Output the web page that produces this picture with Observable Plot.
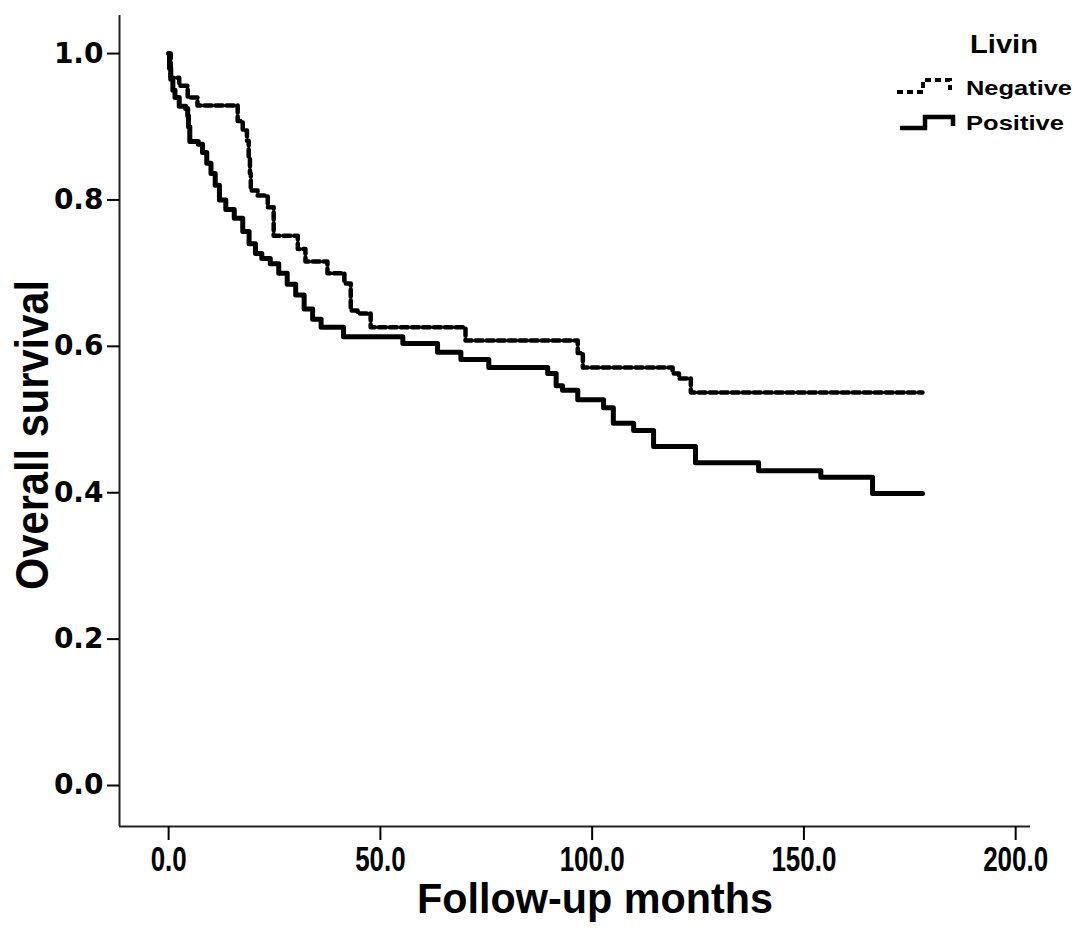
<!DOCTYPE html>
<html>
<head>
<meta charset="utf-8">
<script src="https://cdn.jsdelivr.net/npm/d3@7"></script>
<script src="https://cdn.jsdelivr.net/npm/@observablehq/plot@0.6"></script>
<style>
  html, body { margin: 0; padding: 0; background: #fff; }
  #chart { position: relative; width: 1087px; height: 933px; }
  #chart svg { display: block; }
  g[aria-label="y-axis tick label"] text { font-family: "DejaVu Sans", sans-serif; font-weight: bold; font-size: 28px; }
  g[aria-label="x-axis tick label"] text { font-family: "Liberation Sans", Arial, sans-serif; font-weight: bold; font-size: 35px; }
</style>
</head>
<body>
<div id="chart"></div>
<script>
// ---- data (months, survival proportion) ----
const negMonths = [0, 0.5, 2.5, 4.5, 6.8, 16.3, 17.5, 18.5, 18.9, 19.2, 19.4, 21, 23.4, 24.8, 30.5, 32.3, 37.5, 41.5, 43, 44.6, 47.7, 70.1, 96.6, 97.8, 119, 120.5, 123.3, 178];
const negSurv   = [1.0, 0.967, 0.956, 0.94, 0.929, 0.908, 0.895, 0.881, 0.858, 0.836, 0.813, 0.806, 0.79, 0.751, 0.733, 0.716, 0.70, 0.686, 0.649, 0.645, 0.626, 0.608, 0.591, 0.571, 0.563, 0.556, 0.537, 0.537];

const posMonths = [0, 0.2, 0.5, 1, 1.5, 2.5, 4, 4.5, 4.7, 5, 7, 8, 9, 10, 11, 12, 13.5, 15.5, 17.5, 19, 20.5, 22, 24, 26, 28, 30, 32, 34, 36, 41.3, 55.3, 63.5, 69, 75.6, 89.5, 91.5, 93, 96.6, 102.7, 105, 109.8, 114.5, 124.4, 139.3, 154, 166.2, 178];
const posSurv   = [1.0, 0.98, 0.965, 0.95, 0.94, 0.928, 0.925, 0.915, 0.90, 0.88, 0.876, 0.865, 0.85, 0.836, 0.82, 0.80, 0.787, 0.775, 0.757, 0.74, 0.727, 0.72, 0.713, 0.70, 0.685, 0.67, 0.651, 0.637, 0.626, 0.613, 0.604, 0.592, 0.582, 0.571, 0.563, 0.546, 0.54, 0.527, 0.516, 0.495, 0.485, 0.463, 0.441, 0.430, 0.421, 0.399, 0.399];

const xTicks = [0, 50, 100, 150, 200];
const yTicks = [0, 0.2, 0.4, 0.6, 0.8, 1.0];
const xDomain = [-11.6, 203.5];
const yDomain = [-0.056, 1.052];
const xTitle = "Follow-up months";
const yTitle = "Overall survival";
const legendTitle = "Livin";
const groups = ["Negative", "Positive"];

const neg = negMonths.map((m, i) => ({month: m, surv: negSurv[i]}));
const pos = posMonths.map((m, i) => ({month: m, surv: posSurv[i]}));

const W = 1087, H = 933;
const plot = Plot.plot({
  width: W, height: H,
  marginLeft: 119, marginRight: 57, marginTop: 15, marginBottom: 107,
  style: {background: "white", color: "black", overflow: "visible"},
  x: {domain: xDomain},
  y: {domain: yDomain},
  marks: [
    Plot.ruleX([xDomain[0]], {stroke: "#222", strokeWidth: 2}),
    Plot.ruleY([yDomain[0]], {stroke: "#222", strokeWidth: 2}),
    Plot.axisY({ticks: yTicks, tickFormat: d => d.toFixed(1), tickSize: 12, tickPadding: 4, strokeWidth: 2, label: null}),
    Plot.axisX({ticks: xTicks, tickFormat: d => d.toFixed(1), tickSize: 14, tickPadding: 6, strokeWidth: 2, label: null}),
    Plot.line(neg, {x: "month", y: "surv", curve: "step-after", stroke: "black", strokeWidth: 4.5, strokeDasharray: "7,4"}),
    Plot.line(pos, {x: "month", y: "surv", curve: "step-after", stroke: "black", strokeWidth: 5})
  ]
});
document.getElementById("chart").appendChild(plot);

const svg = d3.select(plot);
// condensed x tick labels
svg.selectAll('g[aria-label="x-axis tick label"] text').each(function() {
  const s = this.textContent;
  const len = s.replace(".", "").length * 14.5 + 7;
  d3.select(this).attr("textLength", len).attr("lengthAdjust", "spacingAndGlyphs");
});
// axis titles
svg.append("text")
  .attr("x", 595).attr("y", 913)
  .attr("text-anchor", "middle")
  .attr("font-family", "Liberation Sans, Arial, sans-serif").attr("font-weight", "bold").attr("font-size", 42)
  .attr("textLength", 356).attr("lengthAdjust", "spacingAndGlyphs")
  .text(xTitle);
svg.append("text")
  .attr("transform", "translate(48,435) rotate(-90)")
  .attr("text-anchor", "middle")
  .attr("font-family", "Liberation Sans, Arial, sans-serif").attr("font-weight", "bold").attr("font-size", 46)
  .attr("textLength", 310).attr("lengthAdjust", "spacingAndGlyphs")
  .text(yTitle);

// legend
const lg = svg.append("g").attr("font-family", "Liberation Sans, Arial, sans-serif").attr("font-weight", "bold").attr("text-anchor", "start");
lg.append("text").attr("x", 970).attr("y", 53).attr("font-size", 25).attr("text-anchor", "start")
  .attr("textLength", 68).attr("lengthAdjust", "spacingAndGlyphs").text(legendTitle);
const sym = [
  {path: "M897,92 H923 V80 H950 V90", dash: "6,4", sw: 4, ty: 95},
  {path: "M900,128 H925 V117 H953 V126", dash: null, sw: 4.5, ty: 130}
];
groups.forEach((g, i) => {
  lg.append("path").attr("d", sym[i].path).attr("fill", "none").attr("stroke", "black")
    .attr("stroke-width", sym[i].sw).attr("stroke-dasharray", sym[i].dash);
  lg.append("text").attr("x", 966).attr("y", sym[i].ty).attr("font-size", 21).attr("text-anchor", "start")
    .attr("textLength", i === 0 ? 106 : 98).attr("lengthAdjust", "spacingAndGlyphs").text(g);
});
</script>
</body>
</html>
